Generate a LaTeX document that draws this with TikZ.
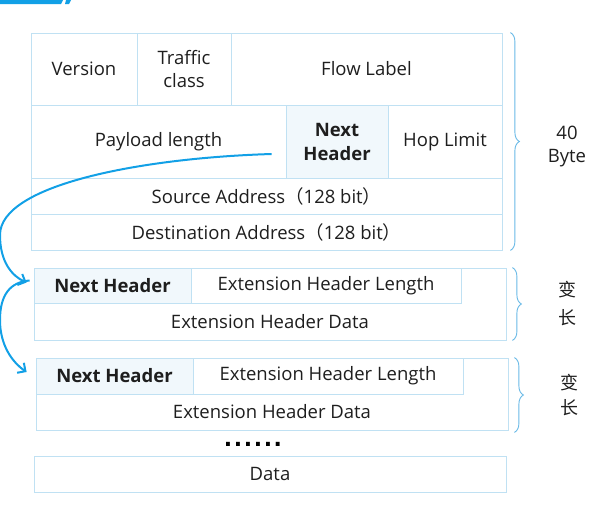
\documentclass[tikz,border=0pt]{standalone}
\usepackage{fontspec}
\setmainfont{Open Sans}
\newfontfamily\cjk{Noto Sans CJK SC}
\newfontfamily\dotfont{DejaVu Sans}
\usetikzlibrary{arrows.meta, decorations.pathreplacing}
\definecolor{linecol}{RGB}{192,225,243}
\definecolor{bracecol}{RGB}{105,185,230}
\definecolor{arrowcol}{RGB}{18,160,230}
\definecolor{nhfill}{RGB}{241,248,252}
\definecolor{txtcol}{RGB}{30,30,30}

\begin{document}
\begin{tikzpicture}[x=1pt, y=-1pt,
  cell/.style={draw=linecol, line width=0.8pt, rectangle, inner sep=0pt, align=center,
    text=txtcol, font=\fontsize{18.5}{23}\selectfont},
  nhcell/.style={cell, fill=nhfill, font=\fontsize{18.5}{24}\selectfont\bfseries},
  lbl/.style={text=txtcol, align=center, font=\fontsize{18.5}{23}\selectfont},
  brace/.style={draw=bracecol, line width=0.9pt, decorate, decoration={brace, amplitude=9pt}},
  link/.style={draw=arrowcol, line width=2pt, -{Straight Barb[length=6pt, width=12pt]}}]
  \useasboundingbox (0,0) rectangle (607,514);

  % 左上角的色条
  \fill[arrowcol] (0,0) -- (63,0) -- (61,4) -- (0,4) -- cycle;
  \fill[arrowcol] (66,0) -- (71,0) -- (69,4) -- (65,4) -- cycle;

  % IPv6 基本报头
  \node[cell, minimum width=106pt, minimum height=72pt] (ver) at (84,69) {Version};
  \node[cell, minimum width=94pt, minimum height=72pt] (tc) at (184,69) {Traffic\\class};
  \node[cell, minimum width=271pt, minimum height=72pt] (flow) at (366.5,69) {Flow Label};
  \node[cell, minimum width=255pt, minimum height=73pt] (plen) at (158.5,141.5) {Payload length};
  \node[nhcell, minimum width=102pt, minimum height=73pt] (nh) at (337,141.5) {Next\\Header};
  \node[cell, minimum width=114pt, minimum height=73pt] (hop) at (445,141.5) {Hop Limit};
  \node[cell, minimum width=471pt, minimum height=36pt] (src) at (266.5,196) {Source Address{\cjk（}128 bit{\cjk）}};
  \node[cell, minimum width=471pt, minimum height=36pt] (dst) at (266.5,232) {Destination Address{\cjk（}128 bit{\cjk）}};

  % 扩展报头 1
  \node[cell, minimum width=472pt, minimum height=72pt] (ext1) at (270,304) {};
  \node[nhcell, minimum width=157pt, minimum height=35pt] (nh1) at (112.5,285.5) {Next Header};
  \node[cell, minimum width=270pt, minimum height=35pt] (len1) at (326,285.5) {Extension Header Length};
  \node[lbl] (data1) at (270,322) {Extension Header Data};

  % 扩展报头 2
  \node[cell, minimum width=472pt, minimum height=72pt] (ext2) at (272,394) {};
  \node[nhcell, minimum width=157pt, minimum height=36pt] (nh2) at (114.5,376) {Next Header};
  \node[cell, minimum width=270pt, minimum height=36pt] (len2) at (328,376) {Extension Header Length};
  \node[lbl] (data2) at (272,412) {Extension Header Data};

  \node[text=black, inner sep=0pt, text height=5pt, text depth=0pt,
    font=\fontsize{22}{22}\selectfont\dotfont\bfseries] (dots) at (253,444)
    {.\kern1.6pt.\kern1.6pt.\kern1.6pt.\kern1.6pt.\kern1.6pt.};
  \node[cell, minimum width=472pt, minimum height=36pt] (data) at (270,474) {Data};

  % 大括号
  \draw[brace] ([xshift=8pt]flow.north east) -- ([xshift=8pt]dst.south east);
  \node[lbl] (byte) at (567,147) {40\\Byte};
  \draw[brace] ([xshift=6pt]ext1.north east) -- ([xshift=6pt]ext1.south east);
  \node[lbl, font=\fontsize{18}{28}\selectfont\cjk] (var1) at (567,304) {变\\长};
  \draw[brace] ([xshift=6pt]ext2.north east) -- ([xshift=6pt,yshift=-2pt]ext2.south east);
  \node[lbl, font=\fontsize{18}{25}\selectfont\cjk] (var2) at (569,395) {变\\长};

  % Next Header 指向
  \draw[link] ([xshift=-14pt, yshift=-12.5pt]nh.west) .. controls (140,158) and (0,185) .. (0,235)
    .. controls (0,262) and (12,276) .. ([xshift=-7pt, yshift=3pt]nh1.west);
  \draw[link] ([xshift=-4pt, yshift=5pt]nh1.west) .. controls (10,282) and (0,295) .. (0,320)
    .. controls (0,345) and (12,362) .. ([xshift=-9pt, yshift=4pt]nh2.west);
\end{tikzpicture}
\end{document}
